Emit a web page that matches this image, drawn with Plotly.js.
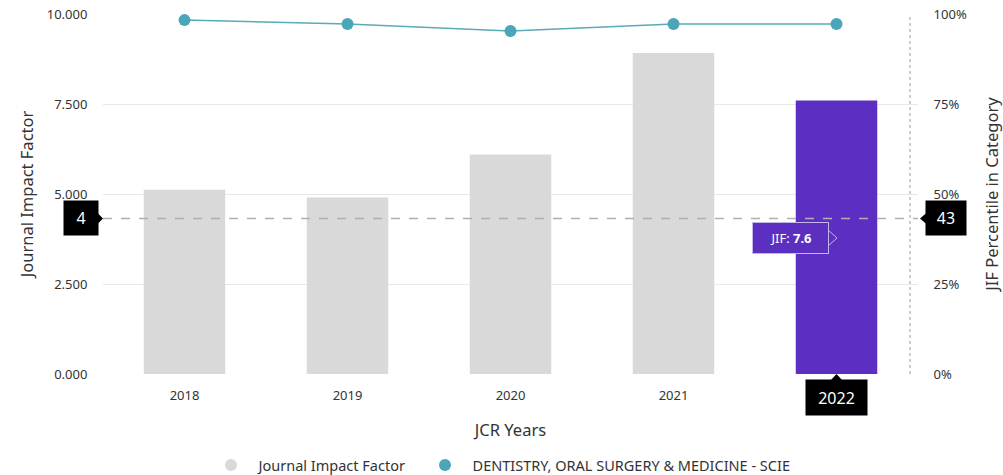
<!DOCTYPE html>
<html>
<head>
<meta charset="utf-8">
<script src="https://cdn.plot.ly/plotly-3.0.1.min.js"></script>
<style>html,body{margin:0;padding:0;background:#fff;}#chart{width:1003px;height:475px;}</style>
</head>
<body>
<div id="chart"></div>
<script>
// ---- data ----
const years = ['2018', '2019', '2020', '2021', '2022'];
const jifValues = [5.12, 4.90, 6.10, 8.92, 7.60];
const percentiles = [98.3, 97.2, 95.3, 97.2, 97.2];
const barColors = ['#d9d9d9', '#d9d9d9', '#d9d9d9', '#d9d9d9', '#5c2fc2'];
const leftTicks = [0, 2.5, 5, 7.5, 10];
const rightTicks = [0, 25, 50, 75, 100];
const rightTickText = ['0%', '25%', '50%', '75%', '100%'];
const crossY = 4.32;          // hover cross-hair level (left axis)
const crossLeftLabel = '4';
const crossRightLabel = '43';
const jifLabel = 'JIF: <b>7.6</b>';
const selYear = '2022';
const seriesNames = ['Journal Impact Factor', 'DENTISTRY, ORAL SURGERY & MEDICINE - SCIE'];

const FONT = 'Noto Sans, Open Sans, sans-serif';
const TEAL = '#4aa6b8';
const NB = '\u00a0';

const traces = [
  {
    type: 'bar', x: years, y: jifValues, marker: {color: barColors},
    width: 0.5, showlegend: false, hoverinfo: 'skip', yaxis: 'y'
  },
  {
    type: 'scatter', mode: 'lines+markers', x: years, y: percentiles, yaxis: 'y2',
    line: {color: '#5aaab7', width: 1.5},
    marker: {color: TEAL, size: 12}, showlegend: false, hoverinfo: 'skip'
  },
  {
    type: 'scatter', mode: 'markers', x: [null], y: [null],
    name: NB + NB + seriesNames[0] + NB + NB + NB + NB,
    marker: {color: '#d9d9d9', size: 12}, showlegend: true
  },
  {
    type: 'scatter', mode: 'markers', x: [null], y: [null],
    name: NB + NB + seriesNames[1],
    marker: {color: TEAL, size: 12}, showlegend: true
  }
];

// pixel helpers for decorations (plot area: x 103..918, y 14..374)
const PL = 103, PW = 815, PB = 374, PH = 360;
const px = v => (v - PL) / PW;
const py = v => (PB - v) / PH;

const crossPx = PB - crossY / 10 * PH;

const ann = (x, y, text, w, h, bg, size, extra) => Object.assign({
  xref: 'paper', yref: 'paper', x: px(x), y: py(y), xanchor: 'center', yanchor: 'middle',
  text: text, showarrow: false, bgcolor: bg, width: w, height: h, borderpad: 0,
  font: {size: size, color: '#fff', family: FONT}
}, extra || {});

const layout = {
  width: 1003, height: 475,
  margin: {l: PL, r: 1003 - PL - PW, t: PB - PH, b: 475 - PB, autoexpand: false},
  paper_bgcolor: '#fff', plot_bgcolor: '#fff',
  font: {family: FONT, color: '#333', size: 13},
  bargap: 0.5,
  xaxis: {
    type: 'category', range: [-0.5, 4.5], showgrid: false, zeroline: false,
    tickmode: 'array', tickvals: years,
    ticktext: years.map(y => (y === selYear ? '' : y)),
    showline: false, ticks: 'outside', ticklen: 9, tickcolor: 'rgba(0,0,0,0)',
    tickfont: {size: 13, color: '#333'},
    title: {text: 'JCR Years', font: {size: 16.5, color: '#333'}, standoff: 21}
  },
  yaxis: {
    range: [0, 10], tickvals: leftTicks, tickformat: '.3f',
    showgrid: true, gridcolor: '#e8e8e8', gridwidth: 1, zeroline: false,
    showline: false, ticks: 'outside', ticklen: 12, tickcolor: 'rgba(0,0,0,0)',
    tickfont: {size: 13, color: '#333'},
    title: {text: 'Journal Impact Factor', font: {size: 16.5, color: '#333'}, standoff: 8}
  },
  yaxis2: {
    overlaying: 'y', side: 'right', range: [0, 100], tickvals: rightTicks, ticktext: rightTickText,
    tickmode: 'array', showgrid: false, zeroline: false, showline: false,
    ticks: 'outside', ticklen: 12, tickcolor: 'rgba(0,0,0,0)',
    tickfont: {size: 13, color: '#333'},
    title: {text: 'JIF Percentile in Category', font: {size: 16.5, color: '#333'}, standoff: 27}
  },
  legend: {
    orientation: 'h', xref: 'container', yref: 'container',
    x: 211 / 1003, xanchor: 'left', y: 10 / 475, yanchor: 'middle',
    font: {size: 14.5, color: '#333'}, itemsizing: 'constant', tracegroupgap: 0
  },
  shapes: [
    // horizontal dashed cross-hair
    {type: 'line', xref: 'paper', yref: 'y', x0: 0, x1: 1, y0: crossY, y1: crossY,
     line: {color: '#b0b0b0', width: 1.5, dash: 'dash'}},
    // vertical dotted line at right
    {type: 'line', xref: 'paper', yref: 'paper', x0: px(910), x1: px(910), y0: 0, y1: py(15),
     line: {color: '#bdbdbd', width: 1.5, dash: 'dot'}},
    // left label arrow
    {type: 'path', xref: 'paper', yref: 'paper', layer: 'above',
     path: `M ${px(97)} ${py(crossPx - 6)} L ${px(103)} ${py(crossPx)} L ${px(97)} ${py(crossPx + 6)} Z`,
     fillcolor: '#000', line: {width: 0}},
    // right label arrow
    {type: 'path', xref: 'paper', yref: 'paper', layer: 'above',
     path: `M ${px(927)} ${py(crossPx - 6)} L ${px(920)} ${py(crossPx)} L ${px(927)} ${py(crossPx + 6)} Z`,
     fillcolor: '#000', line: {width: 0}},
    // tooltip arrow
    {type: 'path', xref: 'paper', yref: 'paper', layer: 'above',
     path: `M ${px(828)} ${py(230)} L ${px(837)} ${py(238)} L ${px(828)} ${py(246)}`,
     fillcolor: 'rgba(0,0,0,0)', line: {color: '#c6b6ef', width: 1}},
    // year label arrow
    {type: 'path', xref: 'paper', yref: 'paper', layer: 'above',
     path: `M ${px(830)} ${py(381)} L ${px(836.5)} ${py(374)} L ${px(843)} ${py(381)} Z`,
     fillcolor: '#000', line: {width: 0}}
  ],
  annotations: [
    ann(81, crossPx, crossLeftLabel, 34, 34, '#000', 16),
    ann(946, crossPx, crossRightLabel, 40, 34, '#000', 16),
    ann(790.5, 238, jifLabel, 75, 30, '#5b2fc0', 13, {bordercolor: '#c6b6ef', borderwidth: 1}),
    ann(836.5, 397.5, selYear, 61, 35, '#000', 16)
  ]
};

Plotly.newPlot('chart', traces, layout, {displayModeBar: false, staticPlot: true});
</script>
</body>
</html>
